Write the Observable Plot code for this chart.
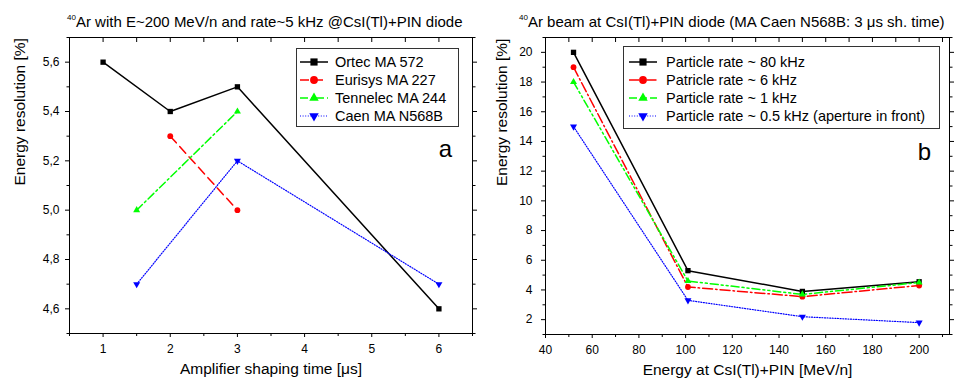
<!DOCTYPE html>
<html><head><meta charset="utf-8">
<script src="https://cdn.jsdelivr.net/npm/d3@7"></script>
<script src="https://cdn.jsdelivr.net/npm/@observablehq/plot@0.6"></script>
<style>
body{margin:0;background:#fff;font-family:Arial,"Liberation Sans",sans-serif;color:#000;}
#wrap{position:relative;width:980px;height:379px;overflow:hidden;background:#fff;}
.panel{position:absolute;top:0;}
.title{position:absolute;top:14px;font-size:15px;line-height:15px;white-space:nowrap;}
.title sup{font-size:8px;vertical-align:0;position:relative;top:-7px;}
.legend{position:absolute;border:1px solid #333;background:#fff;box-sizing:border-box;}
.row{display:flex;align-items:center;height:18px;font-size:14.5px;white-space:nowrap;}
.row svg{flex:none;}
</style></head><body><div id="wrap"></div>
<script>
// ---------- Panel a data ----------
const seriesA = ["Ortec MA 572", "Eurisys MA 227", "Tennelec MA 244", "Caen MA N568B"];
const ortecX = [1, 2, 3, 6],      ortecY = [5.6, 5.4, 5.5, 4.6];
const eurisysX = [2, 3],          eurisysY = [5.3, 5.0];
const tennelecX = [1.5, 3],       tennelecY = [5.0, 5.4];
const caenX = [1.5, 3, 6],        caenY = [4.7, 5.2, 4.7];
const xTicksA = [1, 2, 3, 4, 5, 6];
const xMinorA = [0.5, 1.5, 2.5, 3.5, 4.5, 5.5, 6.5];
const yTicksA = [4.6, 4.8, 5.0, 5.2, 5.4, 5.6];
const yMinorA = [4.5, 4.7, 4.9, 5.1, 5.3, 5.5, 5.7];

// ---------- Panel b data ----------
const seriesB = ["Particle rate ~ 80 kHz", "Patricle rate ~ 6 kHz", "Particle rate ~ 1 kHz", "Particle rate ~ 0.5 kHz (aperture in front)"];
const energies = [52, 101, 150, 200];
const rate80 = [20, 5.3, 3.9, 4.55];
const rate6 = [19, 4.2, 3.55, 4.3];
const rate1 = [18, 4.6, 3.7, 4.5];
const rate05 = [15, 3.3, 2.2, 1.8];
const xTicksB = [40, 60, 80, 100, 120, 140, 160, 180, 200];
const xMinorB = [50, 70, 90, 110, 130, 150, 170, 190, 210];
const yTicksB = [2, 4, 6, 8, 10, 12, 14, 16, 18, 20];
const yMinorB = [1, 3, 5, 7, 9, 11, 13, 15, 17, 19, 21];

// ---------- styles ----------
const sq3 = Math.sqrt(3);
const triangleDown = {
  draw(context, size) {
    const y = -Math.sqrt(size / (sq3 * 3));
    context.moveTo(0, -y * 2);
    context.lineTo(-sq3 * y, y);
    context.lineTo(sq3 * y, y);
    context.closePath();
  }
};
const styleA = [
  {color: "#000000", dash: null, width: 1.5, symbol: "square", r: 3},
  {color: "#ff0000", dash: "9,5", width: 1.5, symbol: "circle", r: 2.9},
  {color: "#00ff00", dash: "8,3,2,3", width: 1.5, symbol: "triangle", r: 2.6},
  {color: "#0000ff", dash: "1,1.6", width: 1.2, symbol: triangleDown, r: 2.6}
];
const styleB = [
  {color: "#000000", dash: null, width: 1.5, symbol: "square", r: 3},
  {color: "#ff0000", dash: "10,3,1.5,3", width: 1.5, symbol: "circle", r: 2.9},
  {color: "#00ff00", dash: "8,3,2,3,2,3", width: 1.5, symbol: "triangle", r: 2.6},
  {color: "#0000ff", dash: "1,1.6", width: 1.2, symbol: triangleDown, r: 2.6}
];

const font = 'Arial, "Liberation Sans", sans-serif';
const zip = (xs, ys) => xs.map((x, i) => ({x, y: ys[i]}));
const comma = d => d.toFixed(1).replace(".", ",");
const blank = () => "";

function seriesMarks(sets, styles) {
  const out = [];
  sets.forEach((rows, i) => {
    const s = styles[i];
    out.push(Plot.line(rows, {x: "x", y: "y", stroke: s.color, strokeWidth: s.width, strokeDasharray: s.dash}));
  });
  sets.forEach((rows, i) => {
    const s = styles[i];
    out.push(Plot.dot(rows, {x: "x", y: "y", fill: s.color, stroke: "none", symbol: s.symbol, r: s.r}));
  });
  return out;
}

function panel(opt) {
  const frameH = opt.height - opt.marginTop - opt.marginBottom;
  return Plot.plot({
    width: opt.width, height: opt.height,
    marginLeft: opt.marginLeft, marginRight: opt.marginRight,
    marginTop: opt.marginTop, marginBottom: opt.marginBottom,
    x: {domain: opt.xDomain, label: null},
    y: {domain: opt.yDomain, label: null},
    style: {fontFamily: font, fontSize: "12px", color: "#000", background: "transparent", overflow: "visible"},
    marks: [
      ...seriesMarks(opt.sets, opt.styles),
      Plot.frame({stroke: "#000", strokeWidth: 1}),
      Plot.axisX(opt.xTicks, {anchor: "bottom", tickSize: 4, tickPadding: 7, label: null, tickFormat: opt.xFormat}),
      Plot.axisX(opt.xMinor, {anchor: "bottom", tickSize: 3, label: null, tickFormat: blank}),
      Plot.ruleX(opt.xTicks.concat(opt.xMinor), {stroke: "#000", insetBottom: frameH - 5}),
      Plot.axisY(opt.yTicks, {anchor: "left", tickSize: 4, tickPadding: opt.yPad, label: null, tickFormat: opt.yFormat}),
      Plot.axisY(opt.yMinor, {anchor: "left", tickSize: 2.5, label: null, tickFormat: blank}),
      Plot.axisY(opt.yTicks, {anchor: "right", tickSize: 4, label: null, tickFormat: blank}),
      Plot.axisY(opt.yMinor, {anchor: "right", tickSize: 2.5, label: null, tickFormat: blank}),
      Plot.text([opt.xLabel], {text: d => d, frameAnchor: "bottom", dy: 36, lineAnchor: "middle", fontSize: 15.5, fill: "#000"}),
      Plot.text([opt.yLabel], {text: d => d, frameAnchor: "left", dx: opt.yLabelDx, rotate: -90, lineAnchor: "middle", fontSize: 15.5, fill: "#000"}),
      Plot.text([opt.letter], {text: d => d, frameAnchor: "top-right", dx: opt.letterDx, dy: opt.letterDy, textAnchor: "middle", lineAnchor: "middle", fontSize: 24, fill: "#000"})
    ]
  });
}

const wrap = document.getElementById("wrap");

const svgA = panel({
  width: 490, height: 379, marginLeft: 69, marginRight: 18, marginTop: 37, marginBottom: 46,
  xDomain: [0.5, 6.5], yDomain: [4.5, 5.7],
  sets: [zip(ortecX, ortecY), zip(eurisysX, eurisysY), zip(tennelecX, tennelecY), zip(caenX, caenY)],
  styles: styleA,
  xTicks: xTicksA, xMinor: xMinorA, yTicks: yTicksA, yMinor: yMinorA,
  xFormat: d => String(d), yFormat: comma, yPad: 6,
  xLabel: "Amplifier shaping time [\u03bcs]", yLabel: "Energy resolution [%]", yLabelDx: -49,
  letter: "a", letterDx: -27, letterDy: 112
});
svgA.classList.add("panel"); svgA.style.left = "0px";
wrap.appendChild(svgA);

const svgB = panel({
  width: 490, height: 379, marginLeft: 55, marginRight: 31, marginTop: 37, marginBottom: 45,
  xDomain: [40, 213], yDomain: [1, 21],
  sets: [zip(energies, rate80), zip(energies, rate6), zip(energies, rate1), zip(energies, rate05)],
  styles: styleB,
  xTicks: xTicksB, xMinor: xMinorB, yTicks: yTicksB, yMinor: yMinorB,
  xFormat: d => String(d), yFormat: d => String(d), yPad: 9,
  xLabel: "Energy at CsI(Tl)+PIN [MeV/n]", yLabel: "Energy resolution [%]", yLabelDx: -43,
  letter: "b", letterDx: -25, letterDy: 115
});
svgB.classList.add("panel"); svgB.style.left = "490px";
wrap.appendChild(svgB);

// ---------- titles ----------
function addTitle(left, html) {
  const d = document.createElement("div");
  d.className = "title";
  d.style.left = left + "px";
  d.innerHTML = html;
  wrap.appendChild(d);
}
addTitle(67, "<sup>40</sup>Ar with E~200 MeV/n and rate~5 kHz @CsI(Tl)+PIN diode");
addTitle(519, "<sup>40</sup>Ar beam at CsI(Tl)+PIN diode (MA Caen N568B: 3 \u03bcs sh. time)");

// ---------- legends ----------
function addLegend(box, names, styles, sw) {
  const L = document.createElement("div");
  L.className = "legend";
  Object.assign(L.style, {left: box.left + "px", top: box.top + "px", width: box.width + "px", height: box.height + "px",
    paddingTop: box.padTop + "px", paddingLeft: box.padLeft + "px"});
  names.forEach((name, i) => {
    const s = styles[i];
    const row = document.createElement("div");
    row.className = "row";
    const svg = d3.create("svg").attr("width", sw.width).attr("height", 18);
    svg.append("line").attr("x1", 0).attr("x2", sw.width).attr("y1", 9).attr("y2", 9)
      .attr("stroke", s.color).attr("stroke-width", s.width).attr("stroke-dasharray", s.dash);
    const sym = typeof s.symbol === "string"
      ? {square: d3.symbolSquare, circle: d3.symbolCircle, triangle: d3.symbolTriangle}[s.symbol]
      : s.symbol;
    svg.append("path").attr("transform", `translate(${sw.width / 2},9)`)
      .attr("d", d3.symbol(sym, Math.PI * (s.r * 1.35) ** 2)()).attr("fill", s.color);
    row.appendChild(svg.node());
    const t = document.createElement("span");
    t.textContent = name;
    t.style.marginLeft = sw.gap + "px";
    row.appendChild(t);
    L.appendChild(row);
  });
  wrap.appendChild(L);
}
addLegend({left: 296, top: 48, width: 163, height: 79, padTop: 4, padLeft: 3}, seriesA, styleA, {width: 28, gap: 7});
addLegend({left: 623, top: 46, width: 317, height: 83, padTop: 6, padLeft: 5}, seriesB, styleB, {width: 28, gap: 9});
</script></body></html>
